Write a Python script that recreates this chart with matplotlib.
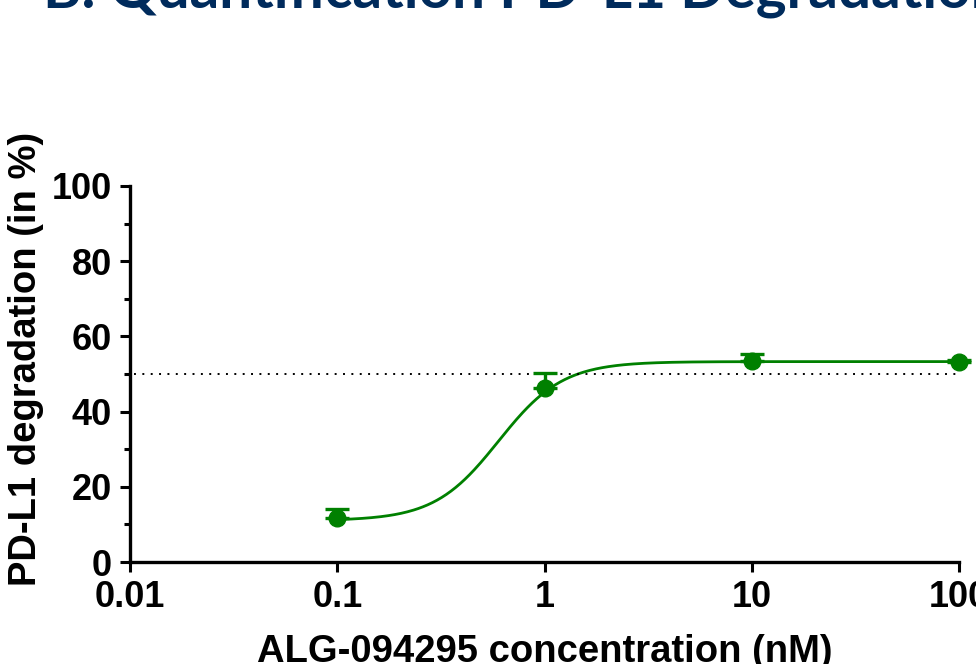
import numpy as np
import matplotlib
matplotlib.use("Agg")
import matplotlib.pyplot as plt
from matplotlib.ticker import FixedLocator, FixedFormatter

# measured points (mean, upper SD)
conc = [0.1, 1, 10, 100]
degradation = [11.7, 46.3, 53.5, 53.3]
err_upper = [2.4, 4.0, 1.8, 0.3]

# 4-parameter logistic fit
fit_bottom = 11.0
fit_top = 53.3
fit_ec50 = 0.6
fit_hill = 2.8

x_ticks = [0.01, 0.1, 1, 10, 100]
x_ticklabels = ["0.01", "0.1", "1", "10", "100"]
y_ticks = [0, 20, 40, 60, 80, 100]
y_minor = [10, 30, 50, 70, 90]
half_max = 50

green = "#008000"
navy = "#002b5c"

plt.rcParams["font.family"] = ["Liberation Sans", "DejaVu Sans"]

fig = plt.figure(figsize=(9.76, 6.64), dpi=100)
ax = fig.add_axes([130 / 976, 1 - 562 / 664, (959 - 130) / 976, (562 - 186) / 664])

xs = np.logspace(np.log10(conc[0]), np.log10(conc[-1]), 400)
ys = fit_bottom + (fit_top - fit_bottom) / (1 + (fit_ec50 / xs) ** fit_hill)
ax.plot(xs, ys, color=green, lw=2.0, clip_on=False)

ax.errorbar(conc, degradation, yerr=[np.zeros(len(err_upper)), err_upper],
            fmt="o", color=green, ms=12, capsize=8.5, capthick=2.4,
            elinewidth=2.4, clip_on=False, zorder=3)

ax.plot([0.0105, 100], [half_max, half_max], color="black", lw=1.4,
        linestyle=(0, (1, 3.3)), clip_on=False)

ax.set_xscale("log")
ax.set_xlim(0.01, 100)
ax.set_ylim(0, 100)

ax.xaxis.set_major_locator(FixedLocator(x_ticks))
ax.xaxis.set_major_formatter(FixedFormatter(x_ticklabels))
ax.xaxis.set_minor_locator(FixedLocator([]))
ax.yaxis.set_major_locator(FixedLocator(y_ticks))
ax.yaxis.set_minor_locator(FixedLocator(y_minor))

for s in ["top", "right"]:
    ax.spines[s].set_visible(False)
for s in ["left", "bottom"]:
    ax.spines[s].set_linewidth(2.4)

ax.tick_params(which="major", length=7, width=2.2, labelsize=26, pad=6)
ax.tick_params(which="minor", length=4, width=2.2)
for lab in ax.get_xticklabels() + ax.get_yticklabels():
    lab.set_fontweight("bold")

fig.text(545 / 976, 1 - 652 / 664, "ALG-094295 concentration (nM)",
         ha="center", va="center", fontsize=27.5, fontweight="bold")
fig.text(26 / 976, 1 - 359 / 664, "PD-L1 degradation (in %)",
         ha="center", va="center", rotation=90, fontsize=27.5, fontweight="bold")

fig.text(43 / 976, 1 - 7 / 664, "B. Quantification PD-L1 Degradation",
         ha="left", va="baseline", fontsize=42, fontweight="bold",
         color=navy, family=["Lato", "DejaVu Sans"])

fig.savefig("out.png", dpi=100)
